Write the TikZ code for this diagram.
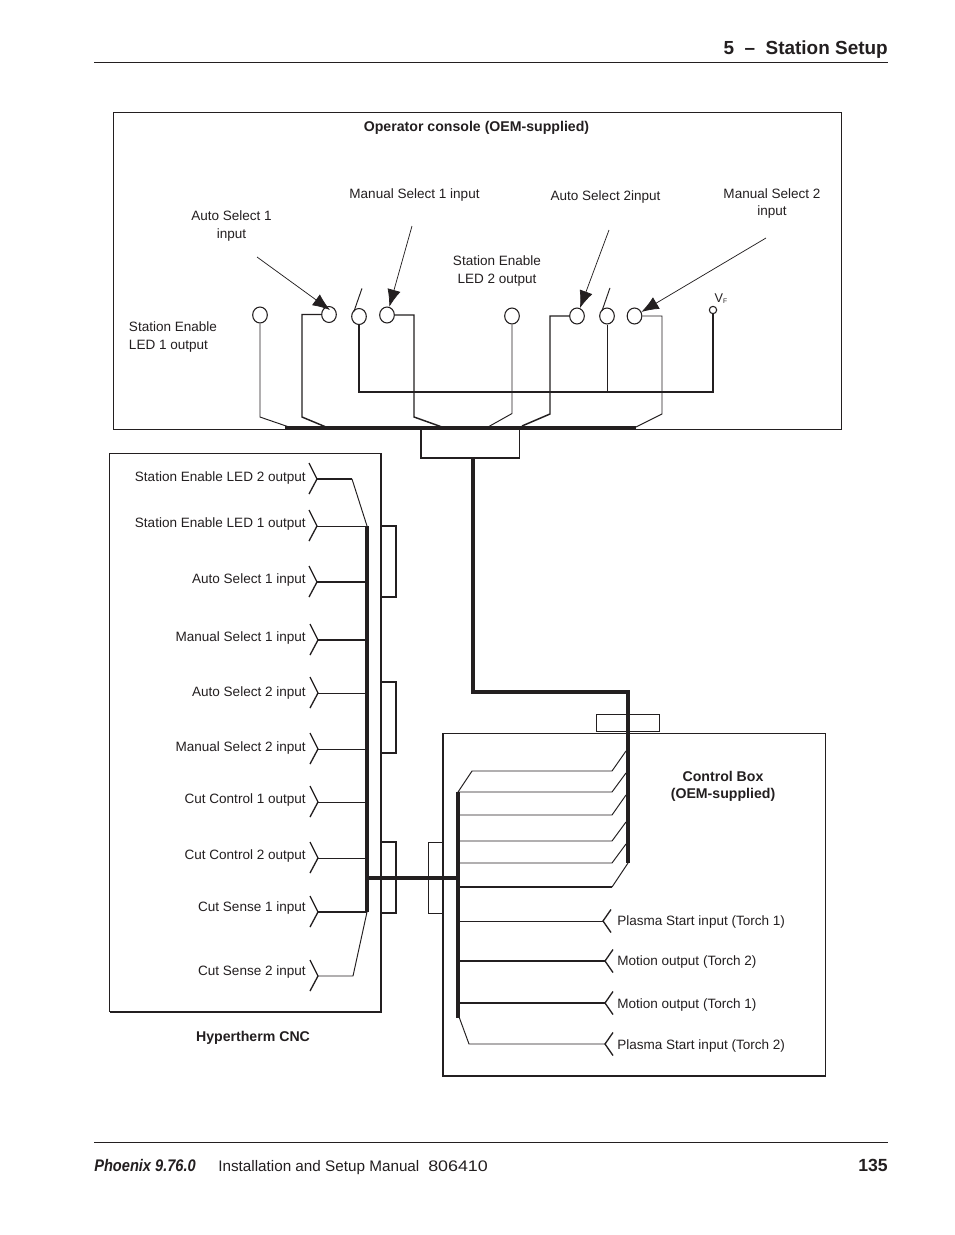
\documentclass[tikz,border=0pt]{standalone}
\usepackage{fontspec}
\setmainfont{Liberation Sans}
\usetikzlibrary{arrows.meta,shapes.geometric}
\definecolor{ink}{HTML}{231F20}
\tikzset{
  thinl/.style={line width=0.72pt,color=ink},
  medl/.style={line width=1.5pt,color=ink},
  busl/.style={line width=2.7pt,color=ink},
  boxl/.style={line width=0.95pt,color=ink},
  pin/.style={shape=ellipse,draw=ink,line width=0.8pt,fill=white,minimum width=11pt,minimum height=12pt,inner sep=0pt},
  smallpin/.style={shape=circle,draw=ink,line width=0.8pt,fill=white,minimum size=5.5pt,inner sep=0pt},
  pointer/.style={line width=0.55pt,color=ink,-{Latex[length=13pt,width=10pt]}},
  lab/.style={font=\fontsize{10.15}{13}\selectfont,text=ink,inner sep=0pt,align=center},
  labl/.style={lab,align=left},
  labr/.style={lab,anchor=base east},
  labs/.style={lab,anchor=base west},
  blab/.style={font=\fontsize{10.6}{13}\bfseries\selectfont,text=ink,inner sep=0pt,align=center},
  foot/.style={font=\fontsize{11.45}{13}\selectfont,text=ink,inner sep=0pt,anchor=base west},
  footb/.style={font=\fontsize{14.2}{16}\bfseries\selectfont,text=ink,inner sep=0pt},
}
\newcommand{\chevL}[3]{\coordinate (#1) at (#2,#3);\draw[line width=1pt,color=ink] (#2-8,#3-16)--(#2,#3)--(#2-8,#3+15);}
\newcommand{\chevR}[3]{\coordinate (#1) at (#2,#3);\draw[line width=1pt,color=ink] (#2+8,#3-11.5)--(#2,#3)--(#2+8,#3+11.5);}
\begin{document}
\begin{tikzpicture}[x=0.75pt,y=-0.75pt]
\useasboundingbox (0,0) rectangle (954,1235);
\fill[white] (0,0) rectangle (954,1235);

% header and footer
\draw[thinl] (94,62.5) -- (888,62.5);
\draw[thinl] (94,1142.5) -- (888,1142.5);
\node[footb,anchor=base east] (head) at (888,54) {5\ \ –\ \ Station Setup};
\node[anchor=base west,inner sep=0pt,text=ink,font=\fontsize{12.6}{14}\bfseries\itshape\selectfont] (ftitle) at (94,1171) {\scalebox{0.87}[1]{Phoenix 9.76.0}};
\node[foot] (fman) at (218,1171) {Installation and Setup Manual};
\node[foot] (fnum) at (428,1171) {\scalebox{1.17}[1]{806410}};
\node[anchor=base east,inner sep=0pt,text=ink,font=\fontsize{13.2}{14}\bfseries\selectfont] (fpage) at (888,1171) {135};

% boxes
\draw[thinl] (113.5,112.5) rectangle (841.5,429.5);
\draw[boxl] (421,429.5) |- (519.5,458) -- (519.5,429.5);
\draw[thinl] (381,453) -- (109.5,453) -- (109.5,1012);
\draw[medl,line width=1.2pt] (381,453) -- (381,1012) -- (109.5,1012);
\draw[thinl] (443,733) -- (825.5,733) -- (825.5,1076);
\draw[medl,line width=1.2pt] (443,733) -- (443,1076) -- (825.5,1076);
\draw[thinl] (596.5,714) rectangle (659,731);
\draw[boxl] (381,526) -| (396,597) -- (381,597);
\draw[boxl] (381,682) -| (396,753) -- (381,753);
\draw[boxl] (381,842) -| (396,913) -- (381,913);
\draw[thinl] (443,842) -| (428,913) -- (443,913);

% console pins
\node[pin] (led1) at (260,315) {};
\node[pin] (as1) at (329,314.5) {};
\node[pin] (sw1) at (359,316.5) {};
\node[pin] (ms1) at (387,315) {};
\node[pin] (led2) at (512,316) {};
\node[pin] (as2) at (577,316) {};
\node[pin] (sw2) at (607,316) {};
\node[pin] (ms2) at (634.5,316) {};
\node[smallpin] (vf) at (713,310) {};
\coordinate (bl) at (285,427.5);
\coordinate (br) at (636,427.5);
\coordinate (sb1) at (359,392);
\coordinate (sb2) at (713,392);
\coordinate (t1) at (289,427);
\coordinate (t2) at (326,427);
\coordinate (t3) at (442,427);
\coordinate (t4) at (488,427);
\coordinate (t5) at (522,426);
\coordinate (t6) at (636,427);
\draw[busl] (bl) -- (br);
\draw[thinl] (led1.south) -- ++(0,93.5) -- (t1);
\draw[boxl,line width=1.1pt] (as1.west) -- (302,314.5) -- (302,417) -- (t2);
\draw[boxl,line width=1.1pt] (ms1.east) -- (414,315) -- (414,417) -- (t3);
\draw[thinl] (led2.south) -- ++(0,89) -- (t4);
\draw[boxl,line width=1.1pt] (as2.west) -- (550,316) -- (550,414) -- (t5);
\draw[thinl] (ms2.east) -- (662,316) -- (662,414) -- (t6);
\draw[boxl,line width=1.1pt] (sw1.south) -- (sb1) -- (sb2) -- (vf.south);
\draw[thinl] (sw2.south) -- (607,392);
\draw[thinl] (sw1.north west) ++(0.5,1) -- ++(8,-23);
\draw[thinl] (sw2.north west) ++(0.5,1) -- ++(8,-23);

% pointers
\coordinate (p1) at (257,257);
\coordinate (p2) at (412,226);
\coordinate (p3) at (609,230);
\coordinate (p4) at (766,238);
\draw[pointer] (p1) -- (330,310);
\draw[pointer] (p2) -- (ms1);
\draw[pointer] (p3) -- (as2);
\draw[pointer] (p4) -- (ms2);

% console labels
\node[blab] (oc) at (476.5,127.5) {Operator console (OEM-supplied)};
\node[lab] (l1) at (231.5,226) {Auto Select 1\\input};
\node[lab] (l2) at (414.5,195) {Manual Select 1 input};
\node[lab] (l3) at (605.5,196.5) {Auto Select 2input};
\node[lab] (l4) at (772,203.5) {Manual Select 2\\input};
\node[lab] (l5) at (497,271) {Station Enable\\LED 2 output};
\node[labl] (l6) at (173,337) {Station Enable\\LED 1 output};
\node[lab,font=\fontsize{9.5}{10}\selectfont] (l7) at (721,298.5) {V\raisebox{-0.25ex}{\fontsize{5}{6}\selectfont F}};

% trunk
\coordinate (tr0) at (473,458);
\coordinate (tr1) at (473,692);
\coordinate (tr2) at (628,692);
\coordinate (tr3) at (628,863);
\draw[busl] (tr0) -- (tr1) -- (tr2) -- (tr3);

% CNC
\coordinate (bA) at (367,526);
\coordinate (bB) at (367,912);
\coordinate (bC) at (458,792);
\coordinate (bD) at (458,1018);
\draw[busl] (bA) -- (bB);
\draw[busl] (bC) -- (bD);
\draw[busl] (367,878) -- (458,878);

\chevL{c1}{317}{479}
\chevL{c2}{317}{526}
\chevL{c3}{317}{582}
\chevL{c4}{318}{640}
\chevL{c5}{318}{693}
\chevL{c6}{318}{749}
\chevL{c7}{318}{802}
\chevL{c8}{318}{858}
\chevL{c9}{318}{912}
\chevL{c10}{318}{976}
\draw[medl] (c1) -- (352,479);
\draw[thinl] (352,479) -- (bA);
\draw[thinl] (c2) -- (bA);
\draw[medl] (c3) -- (c3 -| bA);
\draw[medl] (c4) -- (c4 -| bA);
\draw[thinl] (c5) -- (c5 -| bA);
\draw[thinl] (c6) -- (c6 -| bA);
\draw[thinl] (c7) -- (c7 -| bA);
\draw[thinl] (c8) -- (c8 -| bA);
\draw[medl] (c9) -- (bB);
\draw[thinl] (c10) -- (353,976) -- (bB);

\node[labr] (n1) at (306,481) {Station Enable LED 2 output};
\node[labr] (n2) at (306,527) {Station Enable LED 1 output};
\node[labr] (n3) at (306,583) {Auto Select 1 input};
\node[labr] (n4) at (306,641) {Manual Select 1 input};
\node[labr] (n5) at (306,696) {Auto Select 2 input};
\node[labr] (n6) at (306,751) {Manual Select 2 input};
\node[labr] (n7) at (306,803) {Cut Control 1 output};
\node[labr] (n8) at (306,859) {Cut Control 2 output};
\node[labr] (n9) at (306,911) {Cut Sense 1 input};
\node[labr] (n10) at (306,975) {Cut Sense 2 input};
\node[blab] (hc) at (253,1037.5) {Hypertherm CNC};

% control box wiring
\draw[thinl] (bC) -- (472,771) -- (612,771) -- (626,751);
\draw[thinl] (bC) -- (612,792) -- (626,773);
\draw[thinl] (458,815) -- (612,815) -- (626,795);
\draw[thinl] (458,841) -- (612,841) -- (626,822);
\draw[thinl] (458,863) -- (612,863) -- (626,844);
\draw[medl] (458,887) -- (612,887);
\draw[thinl] (612,887) -- (tr3);
\chevR{d1}{603}{921}
\chevR{d2}{605}{961}
\chevR{d3}{605}{1003}
\chevR{d4}{605}{1044}
\draw[thinl] (d1) -- (d1 -| bC);
\draw[medl] (d2) -- (d2 -| bC);
\draw[medl] (d3) -- (d3 -| bC);
\draw[thinl] (d4) -- (469,1044) -- (458,1014);
\node[labs] (m1) at (617,925) {Plasma Start input (Torch 1)};
\node[labs] (m2) at (617,965) {Motion output (Torch 2)};
\node[labs] (m3) at (617,1008) {Motion output (Torch 1)};
\node[labs] (m4) at (617,1049) {Plasma Start input (Torch 2)};
\node[blab] (cb) at (723,786.5) {Control Box\\(OEM-supplied)};
\end{tikzpicture}
\end{document}
